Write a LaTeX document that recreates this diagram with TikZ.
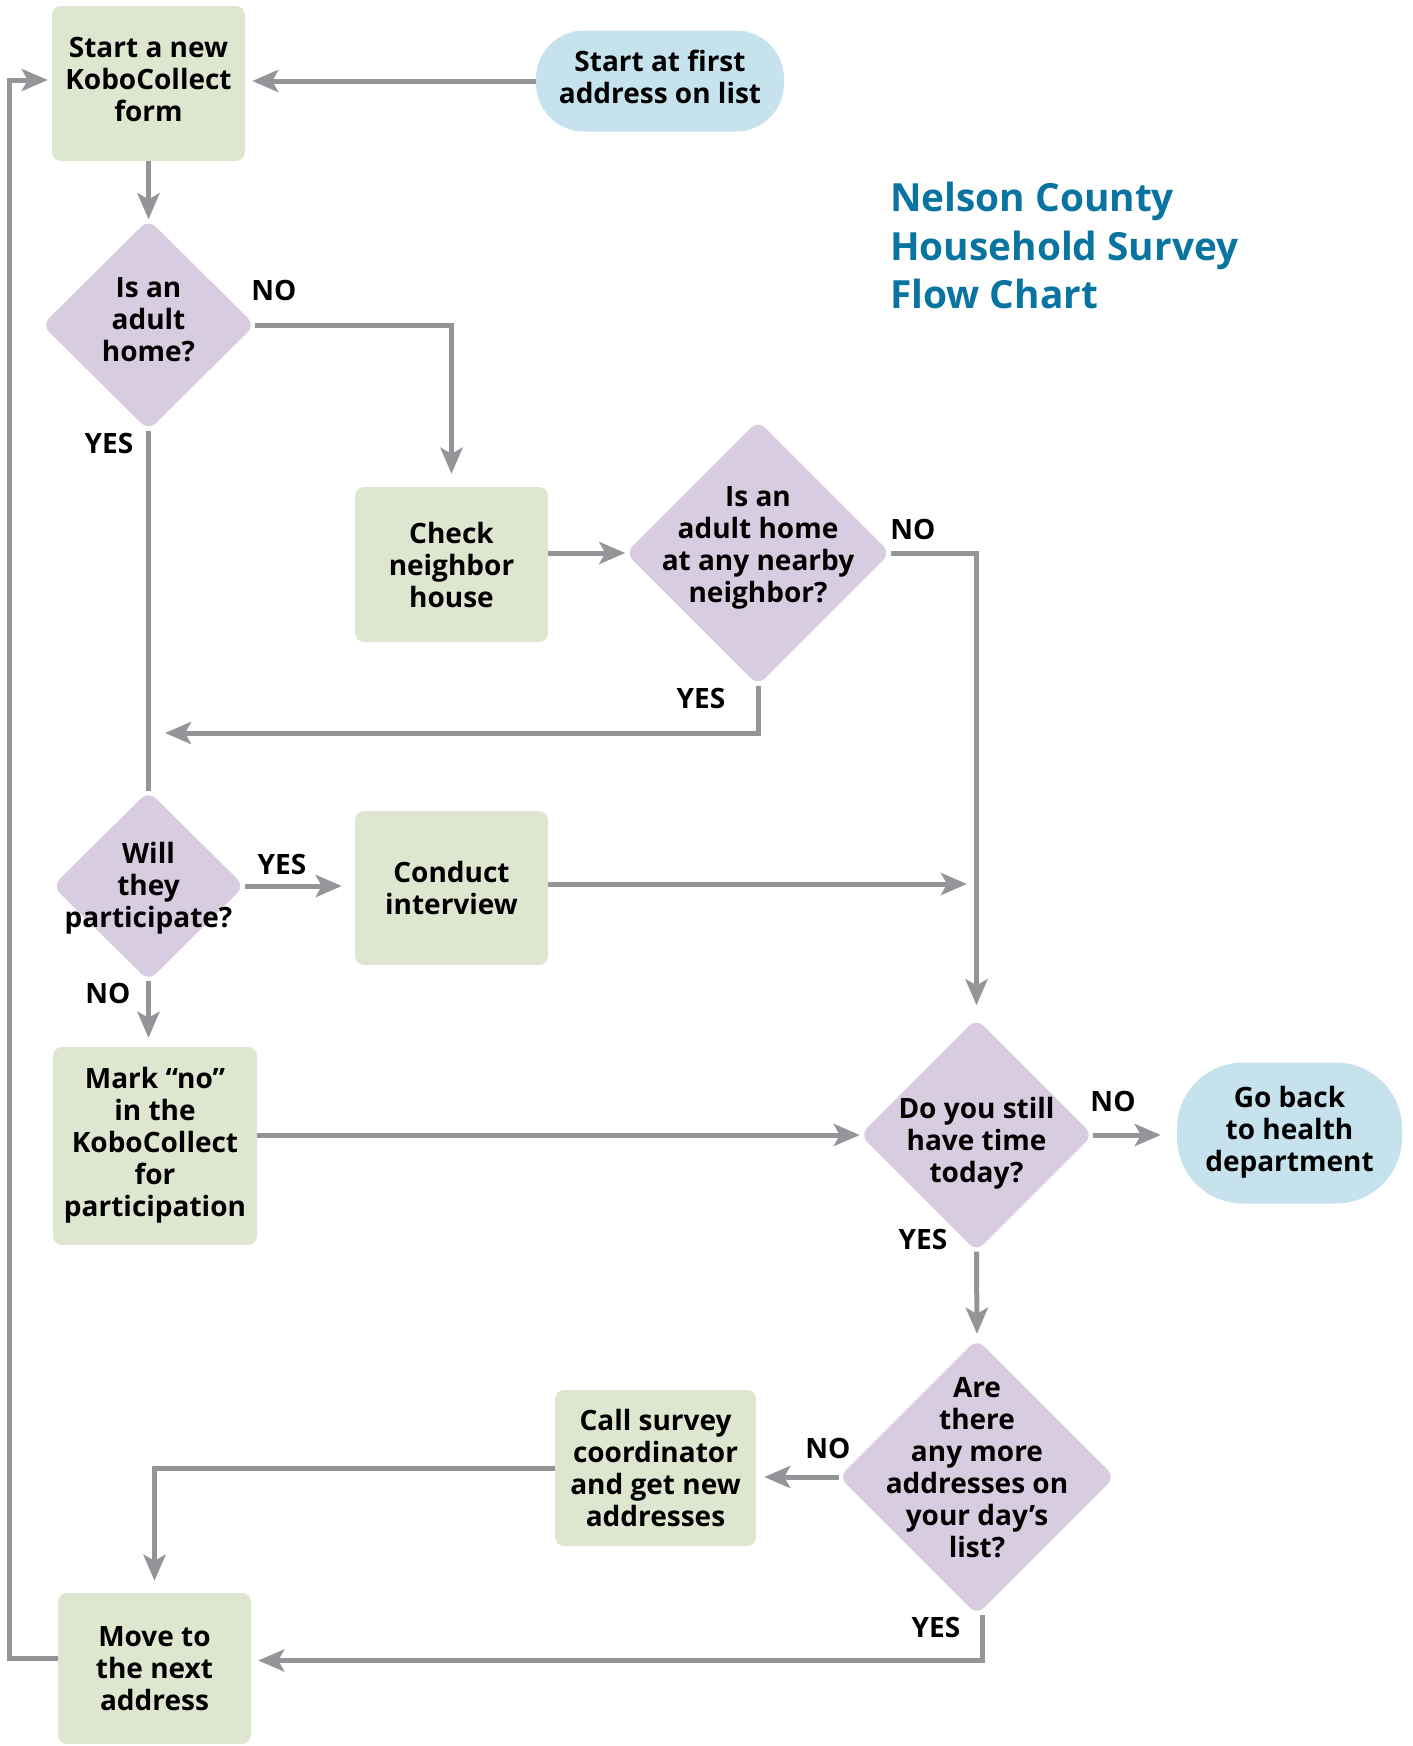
\documentclass[tikz,border=0pt]{standalone}
\usepackage{fontspec}
\setmainfont{Open Sans}
\usetikzlibrary{arrows.meta,shapes.geometric}
\definecolor{gfill}{HTML}{DFE6CF}
\definecolor{pfill}{HTML}{D8CDE0}
\definecolor{bfill}{HTML}{C6E2EC}
\definecolor{arrgray}{HTML}{939598}
\definecolor{titleblue}{HTML}{0A74A0}
\newcommand\dtxt[2]{\makebox[0pt]{\smash{\raisebox{-#1pt}{\begin{tabular}{@{}c@{}}#2\end{tabular}}}}}
\begin{document}
\begin{tikzpicture}[x=1pt,y=-1pt,
  every node/.style={font=\fontsize{28}{32}\selectfont\bfseries, text=black},
  gbox/.style={rectangle, rounded corners=9pt, fill=gfill, align=center, inner sep=0pt},
  oval/.style={rectangle, fill=bfill, align=center, inner sep=0pt},
  diam/.style={diamond, rounded corners=10pt, fill=pfill, inner sep=0pt},
  lbl/.style={inner sep=0pt},
  ttl/.style={anchor=base west, inner sep=0pt, text=titleblue, font=\fontsize{38.8}{48}\selectfont\bfseries},
  arr/.style={draw=arrgray, line width=5pt, -{Stealth[length=26pt,width=22pt,inset=6pt]}},
  ln/.style={draw=arrgray, line width=5pt}]
\useasboundingbox (0,0) rectangle (1413,1746);

% boxes
\node[gbox, minimum width=193pt, minimum height=155pt] (start) at (148.5,83.5) {\raisebox{2.5pt}{\begin{tabular}{@{}c@{}}Start a new\\KoboCollect\\form\end{tabular}}};
\node[oval, rounded corners=48pt, minimum width=248pt, minimum height=101pt] (first) at (660,81) {\raisebox{4pt}{\begin{tabular}{@{}c@{}}Start at first\\address on list\end{tabular}}};
\node[gbox, minimum width=193pt, minimum height=155pt] (check) at (451.5,564.5) {Check\\neighbor\\house};
\node[gbox, minimum width=193pt, minimum height=154pt] (conduct) at (451.5,888) {Conduct\\interview};
\node[gbox, minimum width=204pt, minimum height=198pt] (mark) at (155,1146) {\raisebox{3pt}{\begin{tabular}{@{}c@{}}Mark “no”\\in the\\KoboCollect\\for\\participation\end{tabular}}};
\node[gbox, minimum width=201pt, minimum height=156pt] (call) at (655.5,1468) {Call survey\\coordinator\\and get new\\addresses};
\node[gbox, minimum width=193pt, minimum height=151pt] (move) at (154.5,1668.5) {Move to\\the next\\address};
\node[oval, rounded corners=66pt, minimum width=225pt, minimum height=141pt] (goback) at (1289.5,1133) {\raisebox{2pt}{\begin{tabular}{@{}c@{}}Go back\\to health\\department\end{tabular}}};

% diamonds
\node[diam, minimum width=213pt, minimum height=211pt] (d1) at (148.5,325) {\dtxt{4}{Is an\\adult\\home?}};
\node[diam, minimum width=265pt, minimum height=265pt] (d2) at (758,553) {\dtxt{1}{Is an\\adult home\\at any nearby\\neighbor?}};
\node[diam, minimum width=192pt, minimum height=190pt] (d3) at (148.5,886) {\dtxt{9}{Will\\they\\participate?}};
\node[diam, minimum width=233pt, minimum height=233pt] (d4) at (976.5,1135) {\dtxt{15}{Do you still\\have time\\today?}};
\node[diam, minimum width=276pt, minimum height=276pt] (d5) at (977,1477) {\dtxt{0}{Are\\there\\any more\\addresses on\\your day’s\\list?}};

% title
\node[ttl] (title1) at (890,211.7) {Nelson County};
\node[ttl] (title2) at (890,260) {Household Survey};
\node[ttl] (title3) at (890,308.3) {Flow Chart};

% labels
\node[lbl] (no1) at (274,290) {NO};
\node[lbl] (yes1) at (109,443) {YES};
\node[lbl] (no2) at (913,529) {NO};
\node[lbl] (yes2) at (701,698) {YES};
\node[lbl] (yes3) at (282,864) {YES};
\node[lbl] (no3) at (108,993) {NO};
\node[lbl] (no4) at (1113,1101) {NO};
\node[lbl] (yes4) at (923,1239) {YES};
\node[lbl] (no5) at (828,1448) {NO};
\node[lbl] (yes5) at (936,1627) {YES};

% free ends
\coordinate (yesin) at (165,733);
\coordinate (ciend) at (967,884);
\coordinate (lp) at (9,80);

% connectors
\draw[arr, shorten >=7pt] (first.west) -- (first.west -| start.east);
\draw[arr] (start.south) -- (d1.north);
\draw[arr, shorten >=13pt] (d1.east) -| (check.north);
\draw[arr] (check.east |- d2.west) -- (d2.west);
\draw[arr, shorten >=13pt] (d2.east) -| (d4.north);
\draw[arr] (d2.south) |- (yesin);
\draw[ln] (d1.south) -- (d3.north);
\draw[arr, shorten >=13pt] (d3.east) -- (d3.east -| conduct.west);
\draw[arr] (conduct.east |- ciend) -- (ciend);
\draw[arr, shorten >=9pt] (d3.south) -- (d3.south |- mark.north);
\draw[arr] (mark.east |- d4.west) -- (d4.west);
\draw[arr, shorten >=16pt] (d4.east) -- (d4.east -| goback.west);
\draw[arr, shorten >=5pt] (d4.south) -- (d5.north);
\draw[arr, shorten >=8pt] (d5.west) -- (d5.west -| call.east);
\draw[arr, shorten >=12pt] (call.west) -| (move.north);
\draw[arr, shorten >=7pt] ([xshift=5pt]d5.south) |- ([yshift=8pt]move.east);
\draw[arr, shorten >=4pt] ([yshift=10pt]move.west) -| (lp) -- (lp -| start.west);
\end{tikzpicture}
\end{document}
